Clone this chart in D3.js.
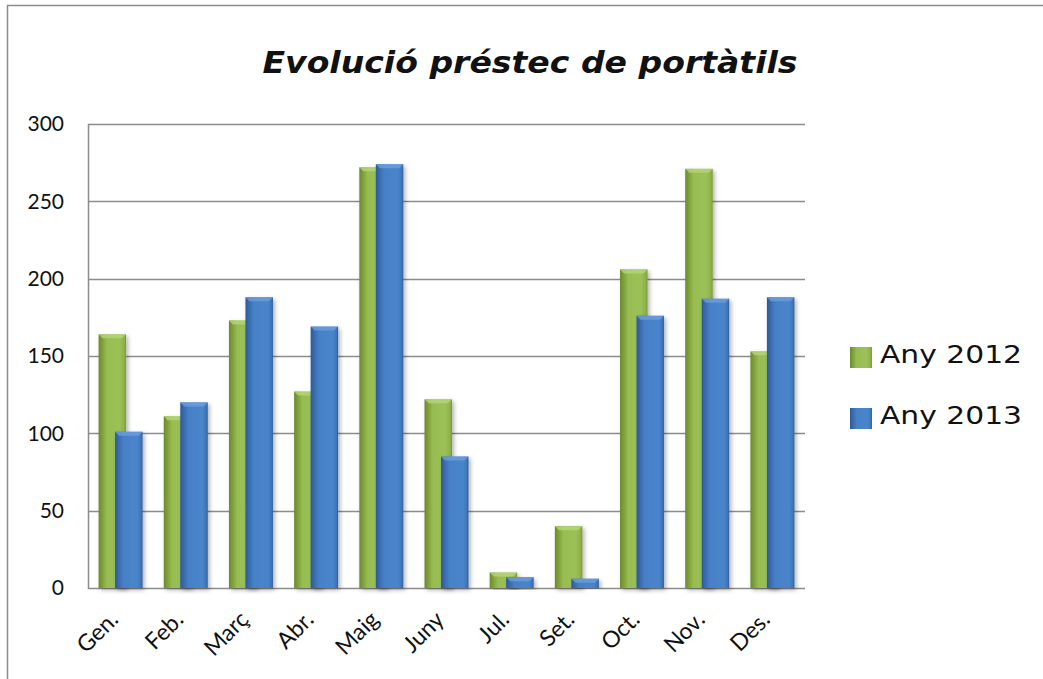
<!DOCTYPE html>
<html>
<head>
<meta charset="utf-8">
<script src="https://cdn.jsdelivr.net/npm/d3@7"></script>
<style>
  html, body { margin: 0; padding: 0; background: #fff; }
  svg { display: block; }
  .tick-label { font-family: Lato, "Open Sans", sans-serif; font-size: 21px; fill: #111; }
  .hand { font-family: "DejaVu Sans", sans-serif; fill: #111; }
</style>
</head>
<body>
<svg id="chart" width="1043" height="679"></svg>
<script>
// ---- Data ----
const months = ["Gen.", "Feb.", "Març", "Abr.", "Maig", "Juny", "Jul.", "Set.", "Oct.", "Nov.", "Des."];
const any2012 = [164, 111, 173, 127, 272, 122, 10, 40, 206, 271, 153];
const any2013 = [101, 120, 188, 169, 274, 85, 7, 6, 176, 187, 188];
const seriesNames = ["Any 2012", "Any 2013"];
const yTicks = [0, 50, 100, 150, 200, 250, 300];

const svg = d3.select("#chart");
const W = 1043, H = 679;
const plot = { left: 88, right: 805, top: 124, bottom: 588 };

// outer chart border (runs off the right and bottom edges)
svg.append("rect")
  .attr("x", 7.5).attr("y", 5.5)
  .attr("width", W).attr("height", H)
  .attr("fill", "none").attr("stroke", "#8c8c8c").attr("stroke-width", 1.5);

// ---- Defs: gradients + shadow ----
const defs = svg.append("defs");
function barGradient(id, stops) {
  const g = defs.append("linearGradient").attr("id", id)
    .attr("x1", "0").attr("x2", "1").attr("y1", "0").attr("y2", "0");
  stops.forEach(([o, c]) => g.append("stop").attr("offset", o).attr("stop-color", c));
}
barGradient("g2012", [[0, "#6a8a2c"], [0.18, "#86a83f"], [0.3, "#97bd52"], [0.75, "#9cc156"], [0.92, "#8fb24b"], [1, "#7a9a3a"]]);
barGradient("g2013", [[0, "#2c5a96"], [0.14, "#3b6cae"], [0.3, "#4680c6"], [0.8, "#4a85cc"], [0.93, "#3f76ba"], [1, "#30609e"]]);

const shadow = defs.append("filter").attr("id", "shadow")
  .attr("x", "-20%").attr("y", "-5%").attr("width", "150%").attr("height", "115%");
shadow.append("feDropShadow")
  .attr("dx", 2).attr("dy", 2).attr("stdDeviation", 2)
  .attr("flood-color", "#000").attr("flood-opacity", 0.3);

// ---- Scales ----
const x = d3.scaleBand()
  .domain(months)
  .range([plot.left, plot.right])
  .paddingInner(0.325)
  .paddingOuter(0.1625);

const y = d3.scaleLinear()
  .domain([0, 300])
  .range([plot.bottom, plot.top]);

const overlap = 0.4;
const barW = x.bandwidth() / (2 - overlap);

const fillId = d3.scaleOrdinal().domain(seriesNames).range(["url(#g2012)", "url(#g2013)"]);
const edge = d3.scaleOrdinal().domain(seriesNames).range(["#b7d57a", "#6d9ddb"]);

// ---- Gridlines ----
svg.append("g")
  .selectAll("line")
  .data(yTicks)
  .join("line")
  .attr("x1", plot.left).attr("x2", plot.right)
  .attr("y1", d => Math.round(y(d)) + 0.5).attr("y2", d => Math.round(y(d)) + 0.5)
  .attr("stroke", "#8c8c8c").attr("stroke-width", 1.5);

svg.append("line")
  .attr("x1", plot.left + 0.5).attr("x2", plot.left + 0.5)
  .attr("y1", y(300)).attr("y2", y(0) + 1)
  .attr("stroke", "#8c8c8c").attr("stroke-width", 1.5);

// ---- Bars ----
const rows = months.map((m, i) => ({ month: m, values: [any2012[i], any2013[i]] }));

const groups = svg.append("g").selectAll("g")
  .data(rows)
  .join("g")
  .attr("transform", d => `translate(${x(d.month)},0)`);

groups.selectAll("g.bar")
  .data(d => d.values.map((v, k) => ({ series: seriesNames[k], k, v })))
  .join("g")
  .attr("class", "bar")
  .each(function (d) {
    const g = d3.select(this);
    const bx = d.k * barW * (1 - overlap);
    const by = y(d.v);
    const bh = y(0) - by;
    g.append("rect")
      .attr("x", bx).attr("y", by)
      .attr("width", barW).attr("height", bh)
      .attr("fill", fillId(d.series))
      .attr("filter", "url(#shadow)");
    // bevel highlight along the top
    const bev = Math.min(4, bh / 2);
    g.append("path")
      .attr("d", `M${bx},${by}H${bx + barW}L${bx + barW - bev},${by + bev}H${bx + bev}Z`)
      .attr("fill", edge(d.series)).attr("opacity", 0.8);
  });

// ---- Y axis labels ----
svg.append("g")
  .selectAll("text")
  .data(yTicks)
  .join("text")
  .attr("class", "tick-label")
  .attr("x", 64)
  .attr("y", d => y(d))
  .attr("dy", "0.35em")
  .attr("text-anchor", "end")
  .text(d => d);

// ---- X axis labels ----
svg.append("g")
  .selectAll("text")
  .data(months)
  .join("text")
  .attr("class", "tick-label")
  .style("font-size", "23px")
  .attr("text-anchor", "end")
  .attr("transform", d => `translate(${x(d) + x.bandwidth() / 2 - 1},${plot.bottom + 33}) rotate(-45)`)
  .text(d => d);

// ---- Title ----
svg.append("text")
  .attr("class", "hand")
  .attr("x", 530).attr("y", 73)
  .attr("text-anchor", "middle")
  .attr("textLength", 535).attr("lengthAdjust", "spacingAndGlyphs")
  .style("font-size", "31px").style("font-weight", "bold").style("font-style", "italic")
  .text("Evolució préstec de portàtils");

// ---- Legend ----
const legend = svg.append("g")
  .selectAll("g")
  .data(seriesNames)
  .join("g")
  .attr("transform", (d, i) => `translate(850,${347 + i * 61})`);

legend.append("rect")
  .attr("width", 22).attr("height", 21)
  .attr("fill", d => fillId(d));

legend.append("text")
  .attr("class", "hand")
  .attr("x", 30).attr("y", 16)
  .attr("textLength", 142).attr("lengthAdjust", "spacingAndGlyphs")
  .style("font-size", "24px")
  .text(d => d);
</script>
</body>
</html>
